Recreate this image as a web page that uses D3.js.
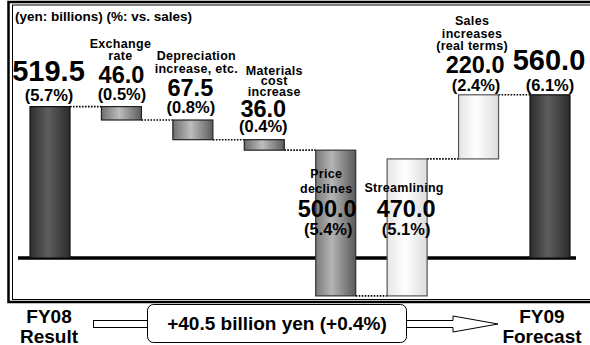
<!DOCTYPE html>
<html>
<head>
<meta charset="utf-8">
<script src="https://cdn.jsdelivr.net/npm/d3@7/dist/d3.min.js"></script>
<style>
  html, body { margin: 0; padding: 0; background: #fff; }
  svg { display: block; font-family: "Liberation Sans", Arial, sans-serif; font-weight: bold; }
</style>
</head>
<body>
<svg id="chart" width="590" height="345"></svg>
<script>
// ---- data ----
const categories = ["FY08 Result", "Exchange rate", "Depreciation increase, etc.", "Materials cost increase",
                    "Price declines", "Streamlining", "Sales increases (real terms)", "FY09 Forecast"];
const values = [519.5, -46.0, -67.5, -36.0, -500.0, 470.0, 220.0, 560.0];
const kinds = ["total", "delta", "delta", "delta", "delta", "delta", "delta", "total"];
const valueLabels = ["519.5", "46.0", "67.5", "36.0", "500.0", "470.0", "220.0", "560.0"];
const pctLabels = ["(5.7%)", "(0.5%)", "(0.8%)", "(0.4%)", "(5.4%)", "(5.1%)", "(2.4%)", "(6.1%)"];
const nameLines = [[], ["Exchange", "rate"], ["Depreciation", "increase, etc."], ["Materials", "cost", "increase"],
                   ["Price", "declines"], ["Streamlining"], ["Sales", "increases", "(real terms)"], []];
const unitNote = "(yen: billions) (%: vs. sales)";
const startLabel = ["FY08", "Result"];
const endLabel = ["FY09", "Forecast"];
const summaryText = "+40.5 billion yen (+0.4%)";

// ---- layout ----
const fills = ["dark", "mid", "mid", "mid", "price", "light", "light", "dark"];
// label placement: [nameCenterDx, nameFirstBaseline, nameLineH, valueDx, valueBaseline, valueSize, pctDx, pctBaseline]
const labelLayout = [
  [0, 0, 0, -1.5, 81, 29, -1, 101],
  [-1, 48, 12, 0, 83, 23.5, 0.5, 100],
  [3.5, 60, 13, -2.5, 96, 23.5, -2, 113],
  [10, 75, 10.3, -1, 117, 23.5, -1, 132],
  [-9.5, 178, 15, -8.5, 217, 23.5, -7.5, 235],
  [-3, 192, 0, -1, 217, 23.5, -1, 235],
  [-6.5, 25, 12.5, -3.5, 73, 23.5, -2.5, 91],
  [0, 0, 0, -1, 70, 29, 0, 91]
];

const svg = d3.select("#chart");
const defs = svg.append("defs");
function grad(id, stops) {
  const g = defs.append("linearGradient").attr("id", id).attr("x1", "0%").attr("x2", "100%").attr("y1", "0%").attr("y2", "0%");
  stops.forEach(s => g.append("stop").attr("offset", s[0]).attr("stop-color", s[1]));
}
grad("dark", [["0%", "#2e2e2e"], ["45%", "#5e5e5e"], ["100%", "#2a2a2a"]]);
grad("mid", [["0%", "#6e6e6e"], ["45%", "#bdbdbd"], ["100%", "#5c5c5c"]]);
grad("price", [["0%", "#7a7a7a"], ["40%", "#b4b4b4"], ["100%", "#5a5a5a"]]);
grad("light", [["0%", "#e6e6e6"], ["45%", "#ffffff"], ["100%", "#dcdcdc"]]);
const strokeFor = { dark: "#111", mid: "#222", price: "#333", light: "#555" };

// frame
svg.append("rect").attr("x", 8.5).attr("y", 2).attr("width", 620).attr("height", 300)
  .attr("fill", "none").attr("stroke", "#000").attr("stroke-width", 2.5);
svg.append("rect").attr("x", 12.5).attr("y", 5).attr("width", 620).attr("height", 294.5)
  .attr("fill", "none").attr("stroke", "#000").attr("stroke-width", 1);

// scales
const x = d3.scaleBand().domain(categories).range([14.3, 585.7]).paddingInner(0.44).paddingOuter(0.22);
const y = d3.scaleLinear().domain([0, 560]).range([258, 94.8]);

// cumulative
const rows = [];
let cum = 0;
categories.forEach((c, i) => {
  let y0, y1;
  if (kinds[i] === "total") { y0 = 0; y1 = values[i]; cum = values[i]; }
  else { y0 = cum; y1 = cum + values[i]; cum = y1; }
  rows.push({ c, i, y0, y1, end: cum });
});

// baseline axis line
svg.append("line").attr("x1", 18).attr("x2", 576).attr("y1", y(0)).attr("y2", y(0))
  .attr("stroke", "#000").attr("stroke-width", 3.5);

// connectors
for (let i = 0; i < rows.length - 1; i++) {
  svg.append("line")
    .attr("x1", x(categories[i]) + x.bandwidth()).attr("x2", x(categories[i + 1]))
    .attr("y1", y(rows[i].end)).attr("y2", y(rows[i].end))
    .attr("stroke", "#000").attr("stroke-width", 1.6).attr("stroke-dasharray", "1.6,1.4");
}

// bars
svg.selectAll("rect.bar").data(rows).join("rect").attr("class", "bar")
  .attr("x", d => x(d.c)).attr("width", x.bandwidth())
  .attr("y", d => y(Math.max(d.y0, d.y1)))
  .attr("height", d => Math.abs(y(d.y0) - y(d.y1)))
  .attr("fill", d => `url(#${fills[d.i]})`)
  .attr("stroke", d => strokeFor[fills[d.i]]).attr("stroke-width", 1.2);

// unit note
svg.append("text").attr("x", 15).attr("y", 21).attr("font-size", 13.5).text(unitNote);

// labels
rows.forEach(d => {
  const cx = x(d.c) + x.bandwidth() / 2;
  const L = labelLayout[d.i];
  nameLines[d.i].forEach((t, k) => {
    svg.append("text").attr("x", cx + L[0]).attr("y", L[1] + k * L[2])
      .attr("text-anchor", "middle").attr("font-size", 12.5).attr("letter-spacing", 0.3).text(t);
  });
  svg.append("text").attr("x", cx + L[3]).attr("y", L[4]).attr("text-anchor", "middle")
    .attr("font-size", L[5]).text(valueLabels[d.i]);
  svg.append("text").attr("x", cx + L[6]).attr("y", L[7]).attr("text-anchor", "middle")
    .attr("font-size", 16.5).text(pctLabels[d.i]);
});

// bottom row
const cStart = x(categories[0]) + x.bandwidth() / 2;
const cEnd = x(categories[categories.length - 1]) + x.bandwidth() / 2;
startLabel.forEach((t, k) => svg.append("text").attr("x", cStart - 1).attr("y", 323 + k * 19.5)
  .attr("text-anchor", "middle").attr("font-size", 19).text(t));
endLabel.forEach((t, k) => svg.append("text").attr("x", cEnd - 8).attr("y", 323 + k * 19.5)
  .attr("text-anchor", "middle").attr("font-size", 19).text(t));

// arrow shafts
svg.append("rect").attr("x", 93.5).attr("y", 320.5).attr("width", 60).attr("height", 7)
  .attr("fill", "#fff").attr("stroke", "#000").attr("stroke-width", 1);
svg.append("path")
  .attr("d", "M400,320.5 L453,320.5 L453,316 L498,324 L453,332 L453,327.5 L400,327.5 Z")
  .attr("fill", "#fff").attr("stroke", "#000").attr("stroke-width", 1);
svg.append("rect").attr("x", 147.5).attr("y", 304.5).attr("width", 259).attr("height", 38).attr("rx", 6)
  .attr("fill", "#fff").attr("stroke", "#000").attr("stroke-width", 1);
svg.append("text").attr("x", 277).attr("y", 330).attr("text-anchor", "middle").attr("font-size", 19)
  .text(summaryText);
</script>
</body>
</html>
